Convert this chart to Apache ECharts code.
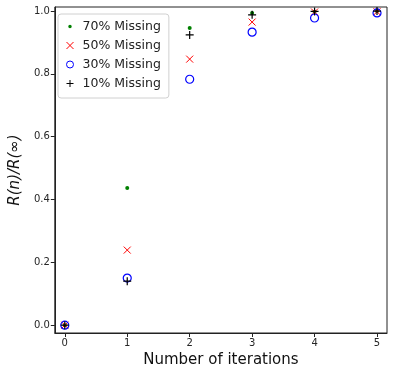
<!DOCTYPE html>
<html>
<head>
<meta charset="utf-8">
<script src="https://cdn.jsdelivr.net/npm/echarts@6/dist/echarts.min.js"></script>
<style>
  html, body { margin: 0; padding: 0; background: #fff; }
  #chart { width: 394px; height: 376px; }
</style>
</head>
<body>
<div id="chart"></div>
<script>
// iterations on the x axis
const iterations = [0, 1, 2, 3, 4, 5];
// R(n)/R(inf) for each missing ratio
const missing70 = [0, 0.437, 0.946, 0.994, 0.998, 1.0];
const missing50 = [0, 0.239, 0.847, 0.965, 0.997, 0.998];
const missing30 = [0, 0.150, 0.783, 0.933, 0.978, 0.994];
const missing10 = [0, 0.140, 0.924, 0.988, 0.999, 1.0];
const xTicks = [0, 1, 2, 3, 4, 5];
const yTicks = [0, 0.2, 0.4, 0.6, 0.8, 1.0];

const pairs = (ys) => iterations.map((x, i) => [x, ys[i]]);

const crossPath = 'path://M0,0L10,10M10,0L0,10';
const plusPath = 'path://M5,0L5,10M0,5L10,5';
// small dot with invisible padding so the legend icon stays small
const dotPath = 'path://M0,0M10,10M5,2.5A2.5,2.5,0,1,1,4.99,2.5Z';

var myChart = echarts.init(document.getElementById('chart'));
const axisText = { color: '#262626', fontSize: 10, fontFamily: 'DejaVu Sans' };

const option = {
  animation: false,
  grid: {
    left: 52, right: 7, top: 7, bottom: 43,
    show: true, borderColor: '#222', borderWidth: 1
  },
  legend: {
    orient: 'vertical',
    left: 58, top: 14,
    itemWidth: 7, itemHeight: 7,
    itemGap: 6,
    padding: [6, 8, 8, 6],
    borderColor: '#d0d0d0', borderWidth: 1, borderRadius: 3,
    textStyle: { fontSize: 12.5, color: '#222', fontFamily: 'DejaVu Sans', padding: [0, 0, 0, 4] },
    data: [
      { name: '70% Missing', icon: dotPath },
      { name: '50% Missing', itemStyle: { borderWidth: 1 } },
      { name: '30% Missing', itemStyle: { borderWidth: 1 } },
      { name: '10% Missing', itemStyle: { borderWidth: 1 } }
    ]
  },
  xAxis: {
    type: 'value',
    min: -0.16, max: 5.16,
    name: 'Number of iterations',
    nameLocation: 'middle',
    nameGap: 20,
    nameTextStyle: { fontSize: 15, color: '#111', fontFamily: 'DejaVu Sans' },
    splitLine: { show: false },
    axisLine: { onZero: false, lineStyle: { color: '#222' } },
    axisTick: { show: true, customValues: xTicks, length: 4, lineStyle: { color: '#222' } },
    axisLabel: Object.assign({ customValues: xTicks, margin: 5, formatter: (v) => String(v) }, axisText)
  },
  yAxis: {
    type: 'value',
    min: -0.025, max: 1.013,
    name: 'R(n)/R(∞)',
    nameLocation: 'middle',
    nameRotate: 90,
    nameGap: 29,
    nameTextStyle: { fontSize: 15, color: '#111', fontStyle: 'italic', fontFamily: 'DejaVu Sans' },
    splitLine: { show: false },
    axisLine: { onZero: false, lineStyle: { color: '#222' } },
    axisTick: { show: true, customValues: yTicks, length: 4, lineStyle: { color: '#222' } },
    axisLabel: Object.assign({ customValues: yTicks, margin: 5, formatter: (v) => v.toFixed(1) }, axisText)
  },
  series: [
    {
      name: '70% Missing', type: 'scatter', data: pairs(missing70),
      symbol: 'circle', symbolSize: 4,
      itemStyle: { color: '#008000', opacity: 1 }
    },
    {
      name: '50% Missing', type: 'scatter', data: pairs(missing50),
      symbol: crossPath, symbolSize: 7,
      itemStyle: { color: 'none', borderColor: '#ff0000', borderWidth: 1, opacity: 1 }
    },
    {
      name: '30% Missing', type: 'scatter', data: pairs(missing30),
      symbol: 'circle', symbolSize: 8,
      itemStyle: { color: 'none', borderColor: '#0000ff', borderWidth: 1.2, opacity: 1 }
    },
    {
      name: '10% Missing', type: 'scatter', data: pairs(missing10),
      symbol: plusPath, symbolSize: 8,
      itemStyle: { color: 'none', borderColor: '#000', borderWidth: 1.2, opacity: 1 }
    }
  ]
};
myChart.setOption(option);
</script>
</body>
</html>
